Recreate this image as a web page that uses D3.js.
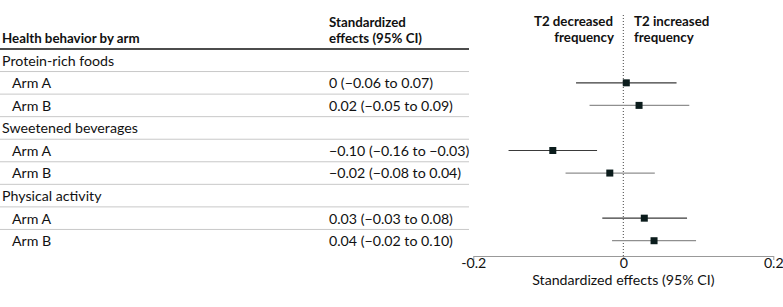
<!DOCTYPE html>
<html>
<head>
<meta charset="utf-8">
<script src="https://cdn.jsdelivr.net/npm/d3@7"></script>
<style>
  body { margin: 0; background: #fff; }
  svg { display: block; font-family: Lato, "Noto Sans", sans-serif; }
</style>
</head>
<body>
<svg id="chart"></svg>
<script>
// rows of the table, top to bottom
var rowLabels = ["Protein-rich foods", "Arm A", "Arm B", "Sweetened beverages", "Arm A", "Arm B", "Physical activity", "Arm A", "Arm B"];
var rowIsGroup = [true, false, false, true, false, false, true, false, false];
var effectText = ["", "0 (\u22120.06 to 0.07)", "0.02 (\u22120.05 to 0.09)", "", "\u22120.10 (\u22120.16 to \u22120.03)", "\u22120.02 (\u22120.08 to 0.04)", "", "0.03 (\u22120.03 to 0.08)", "0.04 (\u22120.02 to 0.10)"];
// point estimates and CI (null for group rows)
var estimate = [null, 0.004, 0.021, null, -0.094, -0.018, null, 0.028, 0.041];
var ciLow    = [null, -0.063, -0.045, null, -0.153, -0.077, null, -0.028, -0.015];
var ciHigh   = [null, 0.071, 0.088, null, -0.035, 0.042, null, 0.085, 0.097];
var xTicks = [-0.2, 0, 0.2];

var w = 783, h = 307;
var fs = 14.2, fsBold = 13.3;
var svg = d3.select("#chart").attr("width", w).attr("height", h);

var rows = [];
for (var i = 0; i < rowLabels.length; i++) {
  rows.push({ i: i, label: rowLabels[i], group: rowIsGroup[i], text: effectText[i],
              est: estimate[i], lo: ciLow[i], hi: ciHigh[i] });
}

var y = d3.scaleBand().domain(d3.range(rows.length)).range([49, 252]);
var x = d3.scaleLinear().domain([-0.2, 0.2]).range([473.3, 773.3]);

// header
var head = svg.append("g").attr("font-weight", "bold").attr("font-size", fsBold).attr("fill", "#111");
head.append("text").attr("x", 2).attr("y", 43).text("Health behavior by arm");
head.append("text").attr("x", 329).attr("y", 27).text("Standardized");
head.append("text").attr("x", 329).attr("y", 43).text("effects (95% CI)");
head.append("text").attr("x", 613).attr("y", 26).attr("text-anchor", "end").text("T2 decreased");
head.append("text").attr("x", 614).attr("y", 42).attr("text-anchor", "end").text("frequency");
head.append("text").attr("x", 634).attr("y", 26).text("T2 increased");
head.append("text").attr("x", 634).attr("y", 42).text("frequency");

svg.append("line").attr("x1", 0).attr("x2", 469).attr("y1", 49).attr("y2", 49)
  .attr("stroke", "#111").attr("stroke-width", 1.5);

// separators between rows
svg.append("g").selectAll("line").data(rows.slice(0, rows.length - 1)).enter().append("line")
  .attr("x1", 0).attr("x2", 469)
  .attr("y1", function(d) { return y(d.i) + y.bandwidth(); })
  .attr("y2", function(d) { return y(d.i) + y.bandwidth(); })
  .attr("stroke", "#c8c8c8").attr("stroke-width", 1);

// table text
var tbl = svg.append("g").attr("font-size", fs).attr("fill", "#111");
tbl.selectAll("text.lab").data(rows).enter().append("text")
  .attr("class", "lab")
  .attr("x", function(d) { return d.group ? 2 : 12; })
  .attr("y", function(d) { return y(d.i) + y.bandwidth() / 2; })
  .attr("dy", "0.38em")
  .text(function(d) { return d.label; });
tbl.selectAll("text.val").data(rows.filter(function(d) { return d.text; })).enter().append("text")
  .attr("class", "val")
  .attr("x", 329)
  .attr("y", function(d) { return y(d.i) + y.bandwidth() / 2; })
  .attr("dy", "0.38em")
  .text(function(d) { return d.text; });

// zero reference line
svg.append("line").attr("x1", x(0)).attr("x2", x(0)).attr("y1", 15).attr("y2", 256)
  .attr("stroke", "#444").attr("stroke-width", 1).attr("stroke-dasharray", "1,2");

// CIs and markers
var pts = rows.filter(function(d) { return d.est !== null; });
svg.append("g").selectAll("line").data(pts).enter().append("line")
  .attr("x1", function(d) { return x(d.lo); })
  .attr("x2", function(d) { return x(d.hi); })
  .attr("y1", function(d) { return y(d.i) + y.bandwidth() / 2; })
  .attr("y2", function(d) { return y(d.i) + y.bandwidth() / 2; })
  .attr("stroke", function(d) { return d.label == "Arm A" ? "#3a3a3a" : "#8f8f8f"; })
  .attr("stroke-width", 1.2);
var sq = 7;
svg.append("g").selectAll("rect").data(pts).enter().append("rect")
  .attr("x", function(d) { return x(d.est) - sq / 2; })
  .attr("y", function(d) { return y(d.i) + y.bandwidth() / 2 - sq / 2; })
  .attr("width", sq).attr("height", sq)
  .attr("fill", "#0b1c1c");

// axis
var axis = svg.append("g").attr("transform", "translate(0,256)")
  .call(d3.axisBottom(x).tickValues(xTicks).tickSize(4).tickSizeOuter(0)
    .tickFormat(function(d) { return d == 0 ? "0" : d3.format(".1f")(d).replace("\u2212", "-"); }));
axis.select(".domain").attr("stroke", "#999");
axis.selectAll(".tick line").attr("stroke", "#999");
axis.selectAll(".tick text").attr("font-size", fs).attr("fill", "#111")
  .attr("font-family", "Lato, sans-serif").attr("y", 11.5).attr("dy", 0);

svg.append("text").attr("x", x(0)).attr("y", 285).attr("text-anchor", "middle")
  .attr("font-size", fs).attr("fill", "#111").text("Standardized effects (95% CI)");
</script>
</body>
</html>
